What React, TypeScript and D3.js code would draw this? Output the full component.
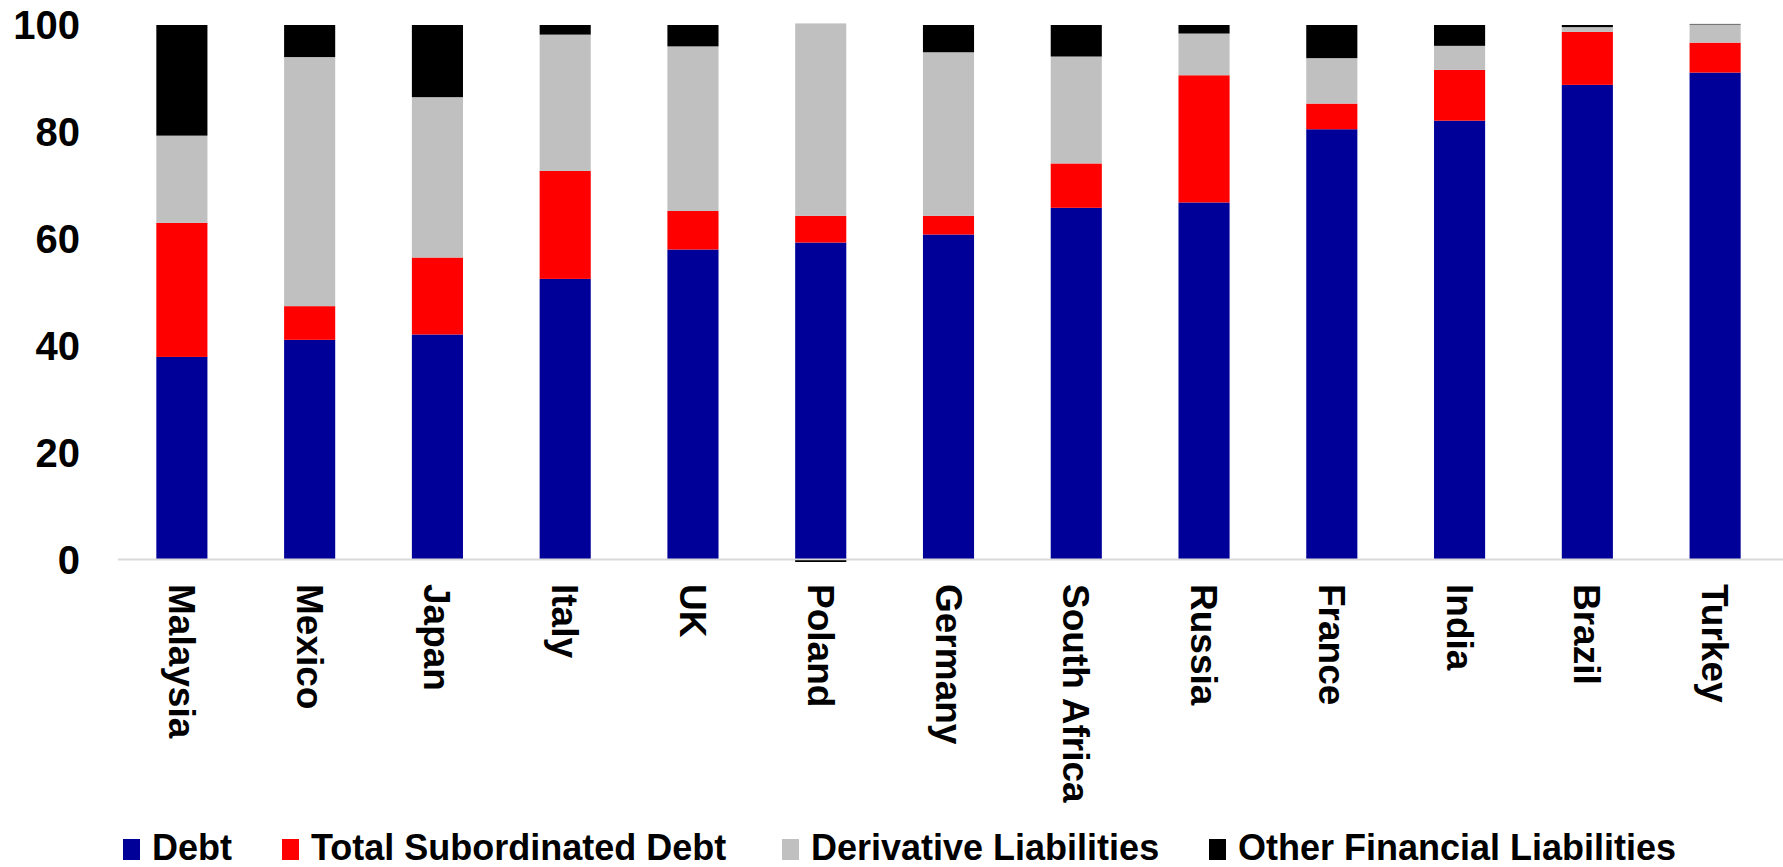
import React from "react";
import * as d3 from "d3";

const categories = [
  "Malaysia", "Mexico", "Japan", "Italy", "UK", "Poland", "Germany",
  "South Africa", "Russia", "France", "India", "Brazil", "Turkey",
];
const debt = [37.9, 41.1, 42.1, 52.5, 58.0, 59.3, 60.8, 65.8, 66.8, 80.5, 82.1, 88.8, 91.1];
const subordinated = [25.1, 6.3, 14.4, 20.2, 7.2, 5.0, 3.5, 8.3, 23.8, 4.8, 9.5, 9.9, 5.6];
const derivatives = [16.3, 46.6, 30.0, 25.5, 30.8, 36.0, 30.6, 20.0, 7.8, 8.5, 4.5, 0.9, 3.4];
const otherLiabilities = [20.7, 6.0, 13.5, 1.8, 4.0, -0.3, 5.1, 5.9, 1.6, 6.2, 3.9, 0.4, 0.1];
const seriesNames = ["Debt", "Total Subordinated Debt", "Derivative Liabilities", "Other Financial Liabilities"];
const seriesColors = ["#000099", "#FF0000", "#C0C0C0", "#000000"];
const yTicks = [0, 20, 40, 60, 80, 100];

const W = 1783;
const H = 867;
const FONT = "'Liberation Sans', Arial, Helvetica, sans-serif";

export default function App() {
  const keys = ["debt", "sub", "deriv", "other"];
  const rows = categories.map((c, i) => ({
    cat: c,
    debt: debt[i],
    sub: subordinated[i],
    deriv: derivatives[i],
    other: otherLiabilities[i],
  }));
  const stacked = d3.stack<any>().keys(keys).offset(d3.stackOffsetDiverging)(rows);

  const x = d3.scaleBand<string>().domain(categories).range([118, 1779]).paddingInner(0.6).paddingOuter(0.3);
  const y = d3.scaleLinear().domain([0, 100]).range([559.5, 25]);

  const legendX = [123, 282, 782, 1209];

  return (
    <svg
      width={W}
      height={H}
      style={{ position: "absolute", left: 0, top: 0, background: "#fff" }}
      fontFamily={FONT}
    >
      {stacked.map((s, si) => (
        <g key={s.key} fill={seriesColors[si]}>
          {s.map((d, i) => {
            const y0 = y(d[0]);
            const y1 = y(d[1]);
            return (
              <rect
                key={i}
                x={x(categories[i])}
                width={x.bandwidth()}
                y={Math.min(y0, y1)}
                height={Math.max(Math.abs(y0 - y1), 0)}
              />
            );
          })}
        </g>
      ))}
      <line x1={118} x2={W} y1={y(0)} y2={y(0)} stroke="#d9d9d9" strokeWidth={2} />
      {stacked[3].map((d, i) =>
        d[0] < 0 ? (
          <rect key={"neg" + i} x={x(categories[i])} width={x.bandwidth()} y={y(0) + 1} height={1.5} fill="#000" />
        ) : null
      )}
      {yTicks.map((t) => (
        <text
          key={t}
          x={80}
          y={y(t)}
          dy="0.36em"
          textAnchor="end"
          fontSize={40}
          fontWeight="bold"
          fill="#000"
        >
          {t}
        </text>
      ))}
      {categories.map((c) => (
        <text
          key={c}
          transform={`translate(${(x(c) as number) + x.bandwidth() / 2},584) rotate(90)`}
          dy="0.35em"
          textAnchor="start"
          fontSize={37}
          fontWeight="bold"
          fill="#000"
        >
          {c}
        </text>
      ))}
      {seriesNames.map((n, i) => (
        <g key={n} transform={`translate(${legendX[i]},0)`}>
          <rect x={0} y={839} width={17} height={21} fill={seriesColors[i]} />
          <text x={29} y={860} fontSize={36} fontWeight="bold" fill="#000">
            {n}
          </text>
        </g>
      ))}
    </svg>
  );
}
